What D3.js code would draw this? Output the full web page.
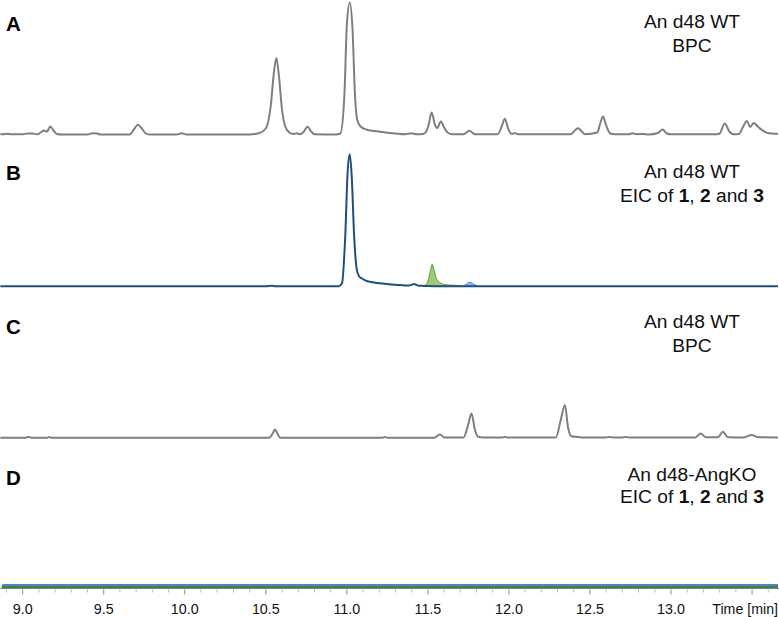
<!DOCTYPE html>
<html>
<head>
<meta charset="utf-8">
<script src="https://cdn.jsdelivr.net/npm/d3@7/dist/d3.min.js"></script>
<style>
  html, body { margin: 0; padding: 0; background: #fff; }
  svg { display: block; font-family: "Liberation Sans", Arial, sans-serif; }
</style>
</head>
<body>
<svg id="chart" width="779" height="617"></svg>
<script>
// ---- Data (retention time [min], relative intensity) ----
const panelLetters = ["A", "B", "C", "D"];
const panelTitles = [
  ["An d48 WT", "BPC"],
  ["An d48 WT", "EIC"],
  ["An d48 WT", "BPC"],
  ["An d48-AngKO", "EIC"]
];
const majorTicks = [9.0, 9.5, 10.0, 10.5, 11.0, 11.5, 12.0, 12.5, 13.0];
const tickLabels = ["9.0", "9.5", "10.0", "10.5", "11.0", "11.5", "12.0", "12.5", "13.0"];
const axisTitle = "Time [min]";

// A: An d48 WT BPC
const traceA = [
  [8.862,0.5],[8.88,0.3],[8.90,0.8],[8.93,0.2],[9.00,0.2],[9.03,1.0],[9.06,1.0],[9.09,0.2],
  [9.11,2.0],[9.13,4.0],[9.15,3.0],[9.17,8.0],[9.19,4.0],[9.21,0.5],[9.24,0],[9.40,0],
  [9.43,1.2],[9.46,1.0],[9.48,0],[9.66,0],[9.69,6],[9.71,9.7],[9.73,7],[9.76,1],[9.78,0],
  [9.95,0],[9.98,1.2],[10.01,0],[10.40,0],[10.46,1.5],[10.50,6],[10.53,28],[10.55,62],
  [10.565,76.5],[10.58,60],[10.60,25],[10.62,8],[10.645,2],[10.67,0.5],[10.69,1.2],[10.71,0.3],
  [10.73,2],[10.758,7.7],[10.78,3],[10.80,0.3],[10.93,0],[10.96,1],[10.985,40],[11.00,110],
  [11.018,132],[11.035,105],[11.05,40],[11.065,14],[11.085,8],[11.12,5],[11.17,3.5],[11.22,2.5],
  [11.30,1],[11.36,0.3],[11.40,1.2],[11.43,0.2],[11.47,0.5],[11.49,3],[11.505,10],[11.523,22],
  [11.545,9],[11.557,6.4],[11.58,13],[11.60,7],[11.625,1.5],[11.65,0.3],[11.72,0.3],[11.755,3.7],
  [11.79,0.3],[11.93,0.3],[11.955,8],[11.975,15.7],[11.995,6],[12.015,0.8],[12.04,1.2],[12.06,0.2],
  [12.38,0.3],[12.41,4.5],[12.427,6.3],[12.45,3],[12.47,0.3],[12.545,2],[12.565,12],[12.58,18],
  [12.60,9],[12.625,1],[12.65,0.3],[12.74,0.3],[12.76,1.2],[12.79,0.3],[12.83,0.5],[12.86,0],
  [12.92,1.5],[12.947,5],[12.975,1],[13.00,0.2],[13.28,0.3],[13.30,1],[13.331,11],[13.36,3],
  [13.383,0.3],[13.42,0.5],[13.445,8],[13.468,13.6],[13.488,7.6],[13.51,11.6],[13.535,8],
  [13.557,5],[13.595,1.5],[13.64,0.7],[13.66,0.7]
];

// B: An d48 WT EIC of 1 (dark blue), 2 (green), 3 (light blue)
const traceB1 = [
  [8.862,0],[10.50,0],[10.536,0.6],[10.56,0],[10.95,0],[10.97,3],[10.99,50],[11.005,115],
  [11.018,132],[11.03,110],[11.045,50],[11.06,18],[11.075,10],[11.091,8],[11.122,5.3],[11.16,4],
  [11.204,3],[11.26,2],[11.327,1.3],[11.369,0.7],[11.395,1.2],[11.416,2.3],[11.44,0.8],
  [11.461,0.5],[11.50,0.2],[11.55,0],[13.66,0]
];
const traceB2 = [
  [11.47,0],[11.49,2],[11.505,8],[11.517,17],[11.527,22],[11.54,15],[11.55,9],[11.564,5],
  [11.58,3],[11.60,1.8],[11.64,1.2],[11.69,0.8],[11.71,0]
];
const traceB3 = [
  [11.715,0],[11.735,2],[11.75,3.8],[11.765,3.8],[11.785,2],[11.81,0]
];

// C: An d48 WT BPC
const traceC = [
  [8.862,0],[9.02,0],[9.036,1],[9.05,0],[9.155,0],[9.165,0.8],[9.175,0],[10.52,0],[10.545,5],
  [10.557,8.3],[10.575,3],[10.59,0],[11.22,0],[11.235,0.7],[11.25,0],[11.54,0],[11.574,3.3],
  [11.60,0.3],[11.72,0.3],[11.75,14],[11.769,24.3],[11.79,8],[11.81,1],[11.84,0.3],[11.96,0.3],
  [11.975,0.8],[11.99,0.3],[12.29,0.3],[12.32,18],[12.345,32.7],[12.365,10],[12.385,1.5],
  [12.42,0.7],[12.45,0.3],[12.60,0.3],[12.62,0.8],[12.64,0.3],[12.70,0.3],[12.72,0.8],[12.74,0.3],
  [13.15,0.3],[13.183,4.3],[13.215,0.5],[13.29,0.5],[13.32,6],[13.35,0.5],[13.45,0.3],
  [13.496,2.7],[13.54,0.5],[13.66,0.3]
];

// D: An d48-AngKO EIC of 1, 2 and 3 (flat)
const traceD2 = [[8.872,-0.8],[8.885,0],[13.66,0]];
const traceD1 = [[8.872,-0.8],[8.885,0],[13.66,0]];

// ---- Layout ----
const svg = d3.select("#chart");
const W = 779, H = 617;
const baselines = [134.5, 286.3, 437.7, 586];
const panelHeight = 132;

const x = d3.scaleLinear().domain([8.86, 13.66]).range([0, 778]);
const yScales = baselines.map(b => d3.scaleLinear().domain([0, 132]).range([b, b - panelHeight]));

function lineGen(y) {
  return d3.line().x(d => x(d[0])).y(d => y(d[1])).curve(d3.curveMonotoneX);
}
function areaGen(y) {
  return d3.area().x(d => x(d[0])).y0(y(0)).y1(d => y(d[1])).curve(d3.curveMonotoneX);
}

const gray = "#7f7f7f";

// Panel A
svg.append("path").datum(traceA).attr("d", lineGen(yScales[0]))
  .attr("fill", "none").attr("stroke", gray).attr("stroke-width", 2).attr("stroke-linejoin", "round");

// Panel B
svg.append("path").datum(traceB2).attr("d", areaGen(yScales[1]))
  .attr("fill", "#9dcb76").attr("stroke", "#5f9e3c").attr("stroke-width", 1);
svg.append("path").datum(traceB3).attr("d", areaGen(yScales[1]))
  .attr("fill", "#8cb8e4").attr("stroke", "#4f8fcf").attr("stroke-width", 1);
svg.append("path").datum(traceB1).attr("d", lineGen(yScales[1]))
  .attr("fill", "none").attr("stroke", "#1f4f7f").attr("stroke-width", 2).attr("stroke-linejoin", "round");

// Panel C
svg.append("path").datum(traceC).attr("d", lineGen(yScales[2]))
  .attr("fill", "none").attr("stroke", gray).attr("stroke-width", 2).attr("stroke-linejoin", "round");

// Axis (ticks below panel D)
const axisY = 588.5;
const minorTicks = d3.range(88, 137).map(v => v / 10).filter(v => v >= 8.86 && v <= 13.66);
const axisG = svg.append("g").attr("transform", `translate(0,${axisY})`);
axisG.append("line").attr("x1", 0).attr("x2", W).attr("y1", 0).attr("y2", 0)
  .attr("stroke", "#9a9a9a").attr("stroke-width", 1);
axisG.selectAll("line.minor").data(minorTicks.filter(v => Math.abs(v * 2 - Math.round(v * 2)) > 1e-6))
  .join("line").attr("class", "minor")
  .attr("x1", d => x(d)).attr("x2", d => x(d)).attr("y1", 1).attr("y2", 4)
  .attr("stroke", "#b5b5b5").attr("stroke-width", 1);
axisG.selectAll("line.major").data(majorTicks.concat([13.5]))
  .join("line").attr("class", "major")
  .attr("x1", d => x(d)).attr("x2", d => x(d)).attr("y1", 1).attr("y2", 6)
  .attr("stroke", "#8a8a8a").attr("stroke-width", 1);
axisG.selectAll("text.tl").data(majorTicks)
  .join("text").attr("class", "tl")
  .attr("x", d => x(d)).attr("y", 25)
  .attr("text-anchor", "middle").attr("font-size", 14.3).attr("fill", "#111")
  .text((d, i) => tickLabels[i]);
axisG.append("text").attr("x", 778).attr("y", 25).attr("text-anchor", "end")
  .attr("font-size", 14.2).attr("fill", "#111").text(axisTitle);

// Panel D (drawn over axis line)
svg.append("path").datum(traceD2).attr("d", lineGen(yScales[3]))
  .attr("fill", "none").attr("stroke", "#3f7f3a").attr("stroke-width", 3)
  .attr("transform", "translate(0,1)");
svg.append("path").datum(traceD1).attr("d", lineGen(yScales[3]))
  .attr("fill", "none").attr("stroke", "#4a86c0").attr("stroke-width", 2.2)
  .attr("transform", "translate(0,-0.9)");

// Panel letters
const letterBaselines = [30.5, 180, 334, 485];
panelLetters.forEach((L, i) => {
  svg.append("text").attr("x", 6).attr("y", letterBaselines[i])
    .attr("font-size", 20.5).attr("font-weight", "bold").attr("fill", "#000").text(L);
});

// Panel titles
const titleLines = [[27.5, 52], [177.5, 202], [327.5, 352], [481, 503]];
panelTitles.forEach((t, i) => {
  svg.append("text").attr("x", 692).attr("y", titleLines[i][0])
    .attr("text-anchor", "middle").attr("font-size", 19.2).attr("fill", "#111").text(t[0]);
  const t2 = svg.append("text").attr("x", 692).attr("y", titleLines[i][1])
    .attr("text-anchor", "middle").attr("font-size", 19.2).attr("fill", "#111");
  if (t[1] === "EIC") {
    t2.append("tspan").text("EIC of ");
    t2.append("tspan").attr("font-weight", "bold").text("1");
    t2.append("tspan").text(", ");
    t2.append("tspan").attr("font-weight", "bold").text("2");
    t2.append("tspan").text(" and ");
    t2.append("tspan").attr("font-weight", "bold").text("3");
  } else {
    t2.text(t[1]);
  }
});
</script>
</body>
</html>
